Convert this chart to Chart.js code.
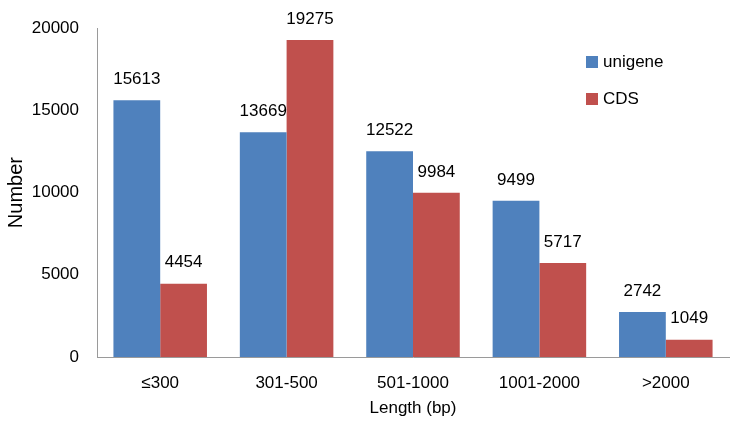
<!DOCTYPE html>
<html lang="en">
<head>
  <meta charset="UTF-8">
  <title>Length distribution</title>
  <script src="https://cdn.jsdelivr.net/npm/chart.js"></script>
  <style>
    html, body { margin: 0; padding: 0; background: #fff; }
    #wrap { width: 737px; height: 423px; }
  </style>
</head>
<body>
  <div id="wrap"><canvas id="chart"></canvas></div>
  <script>
    const categories = ['≤300', '301-500', '501-1000', '1001-2000', '>2000'];
    const unigene = [15613, 13669, 12522, 9499, 2742];
    const cds = [4454, 19275, 9984, 5717, 1049];
    const yTicks = [0, 5000, 10000, 15000, 20000];

    const FONT = 'Liberation Sans, Arial, sans-serif';

    // value labels above each bar
    const barLabels = {
      id: 'barLabels',
      afterDatasetsDraw(chart) {
        const ctx = chart.ctx;
        ctx.save();
        ctx.font = '17px ' + FONT;
        ctx.fillStyle = '#000';
        ctx.textAlign = 'center';
        ctx.textBaseline = 'middle';
        chart.data.datasets.forEach((ds, i) => {
          chart.getDatasetMeta(i).data.forEach((bar, j) => {
            ctx.fillText(ds.data[j], bar.x, bar.y - 21);
          });
        });
        ctx.restore();
      }
    };

    // legend sitting inside the plot, like the original
    const innerLegend = {
      id: 'innerLegend',
      afterDraw(chart) {
        const ctx = chart.ctx;
        ctx.save();
        ctx.font = '17px ' + FONT;
        ctx.textBaseline = 'middle';
        chart.data.datasets.forEach((ds, i) => {
          const y = 62 + i * 37;
          ctx.fillStyle = ds.backgroundColor;
          ctx.fillRect(586, y - 6, 12, 12);
          ctx.fillStyle = '#000';
          ctx.fillText(ds.label, 603, y);
        });
        ctx.restore();
      }
    };

    new Chart(document.getElementById('chart'), {
      type: 'bar',
      data: {
        labels: categories,
        datasets: [
          { label: 'unigene', data: unigene, backgroundColor: '#4F81BD' },
          { label: 'CDS', data: cds, backgroundColor: '#C0504D' }
        ]
      },
      options: {
        responsive: true,
        maintainAspectRatio: false,
        animation: false,
        layout: { padding: { top: 14, right: 8, left: 0, bottom: 0 } },
        datasets: { bar: { categoryPercentage: 0.74, barPercentage: 1 } },
        plugins: { legend: { display: false }, tooltip: { enabled: false } },
        scales: {
          x: {
            grid: { display: false, drawTicks: false },
            border: { color: '#9a9a9a', width: 1 },
            ticks: { color: '#000', font: { family: FONT, size: 17 }, padding: 16 },
            title: { display: true, text: 'Length (bp)', color: '#000', font: { family: FONT, size: 17 }, padding: { top: 4 } },
            afterFit: s => { s.height = 66; }
          },
          y: {
            min: 0,
            max: 20000,
            afterBuildTicks: s => { s.ticks = yTicks.map(v => ({ value: v })); },
            grid: { display: false, drawTicks: false },
            border: { color: '#9a9a9a', width: 1 },
            ticks: { color: '#000', font: { family: FONT, size: 17 }, padding: 18, callback: v => String(v) },
            title: { display: true, text: 'Number', color: '#000', font: { family: FONT, size: 20 }, padding: { bottom: 0 } },
            afterFit: s => { s.width = 97; }
          }
        }
      },
      plugins: [barLabels, innerLegend]
    });
  </script>
</body>
</html>
